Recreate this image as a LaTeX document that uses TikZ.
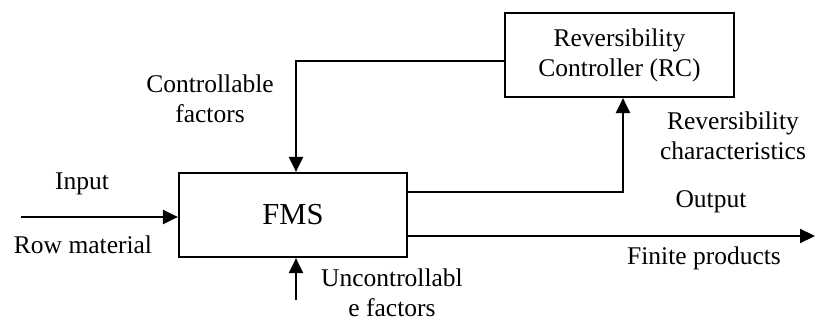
\documentclass[tikz,border=0pt]{standalone}
\usepackage{fontspec}
\setmainfont{Liberation Serif}
\usepackage{tikz}
\usetikzlibrary{arrows.meta}
\tikzstyle{block}=[draw, line width=1.1pt, rectangle, inner sep=0pt, align=center]
\tikzstyle{flow}=[line width=1.1pt, -{Triangle[length=7.5pt,width=7pt]}]
\tikzstyle{lbl}=[align=center, inner sep=0pt]

\begin{document}
\begin{tikzpicture}[x=0.5pt, y=-0.5pt, font=\fontsize{12.75}{15}\selectfont]
	\useasboundingbox (0,0) rectangle (815,320);
%
	\node[block, minimum width=114pt, minimum height=42pt, font=\fontsize{15.25}{18}\selectfont] (fms) at (293,215) {FMS};
	\node[block, minimum width=114.5pt, minimum height=42pt] (rc) at (619.5,55) {Reversibility\\Controller (RC)};
%
	\coordinate (in) at (21,217);
	\coordinate (out) at (815,236);
	\coordinate (unc) at (296,300);
%
	\draw[flow] (in) -- (in -| fms.west);
	\draw[flow] ([yshift=-3pt]rc.west) -| ([xshift=1.5pt]fms.north);
	\draw[flow] ([yshift=11.5pt]fms.east) -| ([xshift=1.75pt]rc.south);
	\draw[flow] ([yshift=-10.5pt]fms.east) -- (out);
	\draw[flow] (unc) -- (unc |- fms.south);
%
	\node[lbl] (ctl) at (210,99) {Controllable\\factors};
	\node[lbl] (inp) at (82,184) {Input};
	\node[lbl] (row) at (83,245) {Row material};
	\node[lbl] (ucf) at (392,293) {Uncontrollabl\\e factors};
	\node[lbl] (rch) at (733,136) {Reversibility\\characteristics};
	\node[lbl] (otp) at (711,202) {Output};
	\node[lbl] (fin) at (704,258) {Finite products};
\end{tikzpicture}
\end{document}
